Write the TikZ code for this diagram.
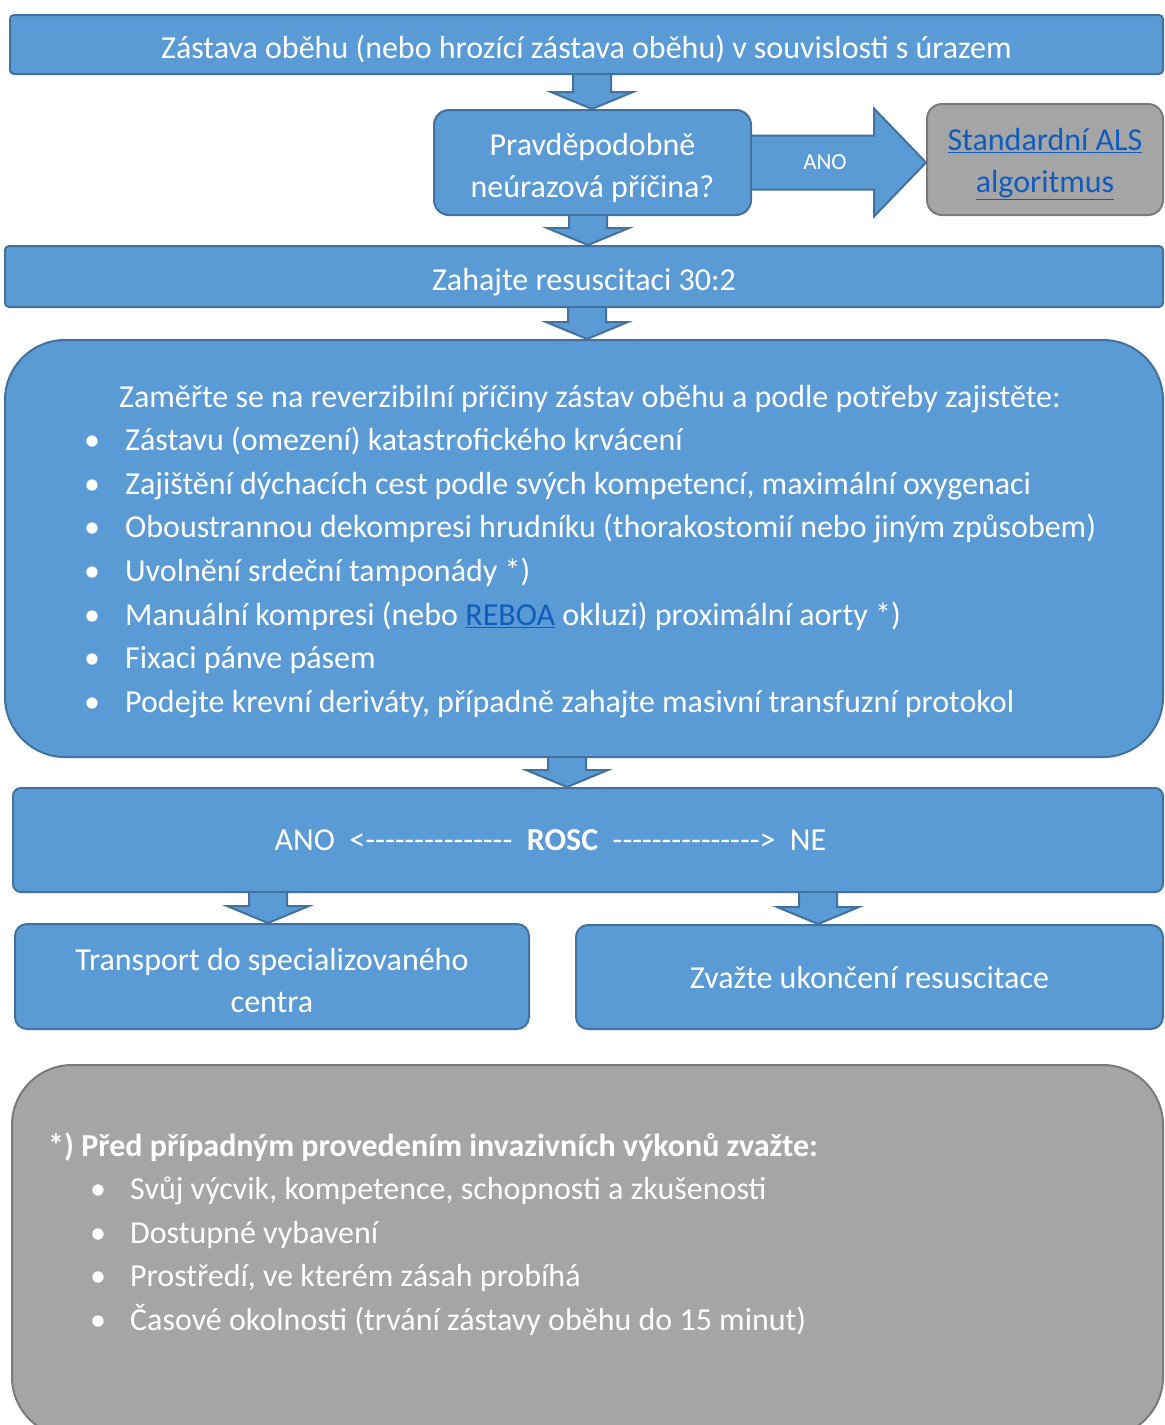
\documentclass[tikz,border=0pt]{standalone}
\usepackage{fontspec}
\setmainfont{Carlito}
\usetikzlibrary{calc}
\definecolor{modra}{HTML}{5B9BD5}
\definecolor{okraj}{HTML}{41719C}
\definecolor{seda}{HTML}{A5A5A5}
\definecolor{sedyokraj}{HTML}{7A7A7A}
\definecolor{odkaz}{HTML}{0F5CBF}
\newcommand{\velke}{\fontsize{32}{42}\selectfont}
\newcommand{\seznamfont}{\fontsize{32}{43.6}\selectfont}
\newcommand{\male}{\fontsize{23}{26}\selectfont}
% text s pevnou vyskou a hloubkou
\newcommand{\obsah}[3]{\raisebox{0pt}[#1pt][#2pt]{\begin{tabular}[t]{@{}c@{}}#3\end{tabular}}}
\newcommand{\carky}[1]{\foreach\n in {1,...,#1}{-\kern0pt}}
\newcommand{\odrazka}{\makebox[41pt][l]{\textbullet}}
\newcommand{\sipkadolu}[3]{\draw[sipka]($(#2.south-|#1)+(-19,0)$)--($(#3.north-|#1)+(-19,-17)$)--++(-22,0)--(#3.north-|#1)--++(41,-17)--++(-22,0)--($(#2.south-|#1)+(19,0)$);}
\tikzset{
  blok/.style={draw=okraj,fill=modra,line width=2pt,text=white,font=\velke,inner sep=0pt},
  sedy/.style={draw=sedyokraj,fill=seda,line width=2pt,font=\velke,inner sep=0pt},
  sipka/.style={draw=okraj,fill=modra,line width=2pt,line join=miter}
}
\begin{document}
\begin{tikzpicture}[x=1pt,y=-1pt]
    \useasboundingbox[fill=white](0,0)rectangle(1165,1425);

    %bloky
    \node[blok,rounded corners=4pt,minimum width=1153,minimum height=59](horni)at(586.5,44.5){\obsah{28}{0}{Zástava oběhu (nebo hrozící zástava oběhu) v souvislosti s úrazem}};
    \node[blok,rounded corners=15pt,minimum width=317,minimum height=105](otazka)at(592.5,162.5){\obsah{0}{14}{Pravděpodobně\\neúrazová příčina?}};
    \node[sedy,rounded corners=15pt,minimum width=236,minimum height=111,text=odkaz](als)at(1045,159.5){\obsah{0}{18}{\underline{Standardní ALS}\\\underline{algoritmus}}};
    \node[blok,rounded corners=4pt,minimum width=1158,minimum height=61](zahajte)at(584,276.5){\obsah{28}{0}{Zahajte resuscitaci 30:2}};
    \node[blok,rounded corners=60pt,minimum width=1158,minimum height=417](priciny)at(584,548.5){};
    \node[text=white,font=\seznamfont,anchor=west,inner sep=0pt](seznam)at(84,551){\begin{tabular}{@{}l@{}}
        \hspace*{35pt}Zaměřte se na reverzibilní příčiny zástav oběhu a podle potřeby zajistěte:\\
        \odrazka Zástavu (omezení) katastrofického krvácení\\
        \odrazka Zajištění dýchacích cest podle svých kompetencí, maximální oxygenaci\\
        \odrazka Oboustrannou dekompresi hrudníku (thorakostomií nebo jiným způsobem)\\
        \odrazka Uvolnění srdeční tamponády *)\\
        \odrazka Manuální kompresi (nebo {\color{odkaz}\underline{REBOA}} okluzi) proximální aorty *)\\
        \odrazka Fixaci pánve pásem\\
        \odrazka Podejte krevní deriváty, případně zahajte masivní transfuzní protokol
    \end{tabular}};
    \node[blok,rounded corners=8pt,minimum width=1150,minimum height=104](rosc)at(588,840){};
    \node[text=white,font=\velke,inner sep=0pt](vysledek)at(550.5,840){ANO \ <\carky{15} \ \textbf{ROSC} \ \carky{15}> \ NE};
    \node[blok,rounded corners=12pt,minimum width=514,minimum height=105](transport)at(272,976.5){\obsah{0}{12}{Transport do specializovaného\\centra}};
    \node[blok,rounded corners=12pt,minimum width=587,minimum height=104](ukonceni)at(869.5,977){\obsah{23}{0}{Zvažte ukončení resuscitace}};
    \node[sedy,rounded corners=60pt,minimum width=1151,minimum height=372](poznamka)at(587.5,1251){};
    \node[text=white,font=\seznamfont,anchor=west,inner sep=0pt](pozn)at(48,1234.5){\begin{tabular}{@{}l@{}}
        \textbf{*) Před případným provedením invazivních výkonů zvažte:}\\
        \hspace*{42pt}\makebox[40pt][l]{\textbullet}Svůj výcvik, kompetence, schopnosti a zkušenosti\\
        \hspace*{42pt}\makebox[40pt][l]{\textbullet}Dostupné vybavení\\
        \hspace*{42pt}\makebox[40pt][l]{\textbullet}Prostředí, ve kterém zásah probíhá\\
        \hspace*{42pt}\makebox[40pt][l]{\textbullet}Časové okolnosti (trvání zástavy oběhu do 15 minut)
    \end{tabular}};

    %sipky
    \coordinate(k1)at(592,0);
    \coordinate(k2)at(588,0);
    \coordinate(k3)at(587,0);
    \coordinate(k4)at(567,0);
    \coordinate(k5)at(268,0);
    \coordinate(k6)at(818,0);
    \sipkadolu{k1}{horni}{otazka}
    \sipkadolu{k2}{otazka}{zahajte}
    \sipkadolu{k3}{zahajte}{priciny}
    \sipkadolu{k4}{priciny}{rosc}
    \sipkadolu{k5}{rosc}{transport}
    \sipkadolu{k6}{rosc}{ukonceni}
    \draw[sipka]($(otazka.east)+(0,-27)$)--($(als.west|-otazka.east)+(-52,-27)$)--++(0,-27)--(als.west|-otazka.east)--++(-52,54)--++(0,-27)--($(otazka.east)+(0,27)$);
    \node[text=white,font=\male](ano)at(825,162){ANO};
\end{tikzpicture}
\end{document}
